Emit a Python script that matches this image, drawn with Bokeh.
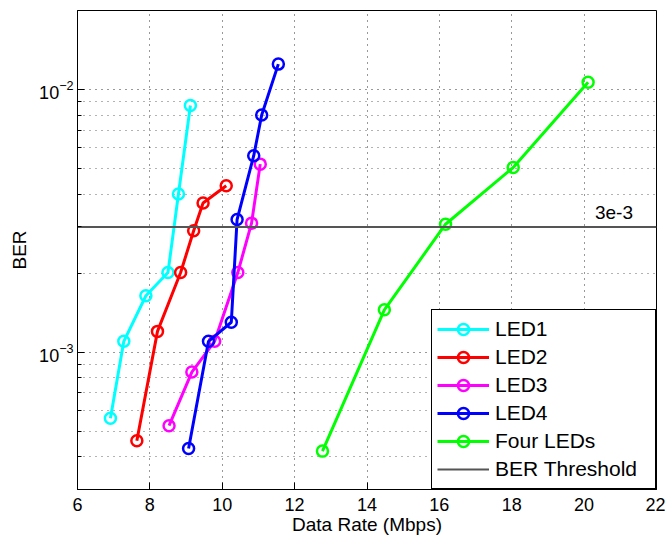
from bokeh.plotting import figure
from bokeh.models import FixedTicker, Label, Legend, LegendItem, LogTickFormatter
from bokeh.embed import file_html
from bokeh.resources import INLINE

# ---------------- data ----------------
led1_rate = [6.91, 7.28, 7.89, 8.50, 8.79, 9.12]
led1_ber = [5.6e-4, 1.10e-3, 1.64e-3, 2.01e-3, 4.0e-3, 8.7e-3]

led2_rate = [7.64, 8.21, 8.85, 9.21, 9.47, 10.11]
led2_ber = [4.6e-4, 1.2e-3, 2.01e-3, 2.9e-3, 3.7e-3, 4.3e-3]

led3_rate = [8.53, 9.16, 9.79, 10.43, 10.81, 11.05]
led3_ber = [5.25e-4, 8.4e-4, 1.10e-3, 2.01e-3, 3.1e-3, 5.2e-3]

led4_rate = [9.07, 9.62, 10.25, 10.41, 10.87, 11.09, 11.55]
led4_ber = [4.3e-4, 1.10e-3, 1.30e-3, 3.2e-3, 5.6e-3, 8.0e-3, 1.25e-2]

four_rate = [12.77, 14.48, 16.17, 18.04, 20.11]
four_ber = [4.2e-4, 1.45e-3, 3.07e-3, 5.05e-3, 1.066e-2]

threshold = 3e-3
threshold_label = "3e-3"
threshold_label_x = 20.3

x_title = "Data Rate (Mbps)"
y_title = "BER"
x_limits = (6, 22)
y_limits = (3e-4, 2e-2)
x_ticks = [6, 8, 10, 12, 14, 16, 18, 20, 22]
y_major = [1e-3, 1e-2]
y_minor_mult = [2, 3, 4, 5, 6, 7, 8, 9]

series = [
    ("LED1", led1_rate, led1_ber, "#00FFFF"),
    ("LED2", led2_rate, led2_ber, "#FF0000"),
    ("LED3", led3_rate, led3_ber, "#FF00FF"),
    ("LED4", led4_rate, led4_ber, "#0000FF"),
    ("Four LEDs", four_rate, four_ber, "#00FF00"),
]

FONT = "Liberation Sans"

p = figure(frame_width=579, frame_height=479, output_backend="svg",
           toolbar_location=None,
           x_range=x_limits, y_range=y_limits, y_axis_type="log",
           min_border_left=77, min_border_right=9, min_border_top=10,
           min_border_bottom=48)
p.background_fill_color = "white"
p.border_fill_color = "white"
p.outline_line_color = "black"
p.outline_line_width = 1
p.outline_line_alpha = 1

minor_vals = [m * d for d in [1e-4, 1e-3, 1e-2] for m in y_minor_mult]
yticker = FixedTicker(ticks=y_major, minor_ticks=minor_vals)
xticker = FixedTicker(ticks=x_ticks, minor_ticks=[])

xa = p.xaxis[0]
xa.ticker = xticker
ya = p.yaxis[0]
ya.ticker = yticker
for ax in (xa, ya):
    ax.major_label_text_font = FONT
    ax.major_label_text_font_size = "18px"
    ax.major_label_text_color = "black"
    ax.axis_label_text_font = FONT
    ax.axis_label_text_font_size = "19px"
    ax.axis_label_text_font_style = "normal"
    ax.axis_label_text_color = "black"
    ax.axis_line_color = "black"
    ax.axis_line_width = 1
    ax.major_tick_in = 7
    ax.major_tick_out = 0
    ax.minor_tick_in = 4
    ax.minor_tick_out = 0
    ax.major_tick_line_color = "black"
    ax.minor_tick_line_color = "black"
xa.axis_label = x_title
xa.major_label_standoff = 8
xa.axis_label_standoff = 0
xa.major_label_text_line_height = 1.0
xa.axis_label_text_line_height = 1.0
ya.axis_label = y_title
ya.major_label_standoff = 4
ya.axis_label_standoff = 6
ya.formatter = LogTickFormatter()

p.xgrid.ticker = xticker
p.ygrid.ticker = yticker
p.xgrid.grid_line_color = "black"
p.xgrid.grid_line_dash = "1 5"
p.xgrid.grid_line_alpha = 0.8
p.ygrid.grid_line_color = "black"
p.ygrid.grid_line_dash = "1 5"
p.ygrid.grid_line_alpha = 0.8
p.ygrid.minor_grid_line_color = "black"
p.ygrid.minor_grid_line_dash = "1 5"
p.ygrid.minor_grid_line_alpha = 0.6

items = []
for name, xs, ys, col in series:
    r1 = p.line(xs, ys, line_color=col, line_width=3)
    r2 = p.scatter(xs, ys, marker="circle", size=11, line_color=col,
                   line_width=2.5, fill_color=None)
    items.append(LegendItem(label=name, renderers=[r1, r2]))

thr = p.line(list(x_limits), [threshold, threshold], line_color="#555555",
             line_width=2)
items.append(LegendItem(label="BER Threshold", renderers=[thr]))

p.add_layout(Label(x=threshold_label_x, y=threshold, y_offset=14,
                   text=threshold_label, text_font=FONT,
                   text_font_size="19px", text_color="black",
                   text_baseline="alphabetic"))

legend = Legend(items=items, location="bottom_right")
legend.margin = 0
legend.padding = 5
legend.spacing = 0
legend.glyph_width = 52
legend.glyph_height = 28
legend.label_height = 28
legend.label_width = 155
legend.label_standoff = 6
legend.label_text_font = FONT
legend.label_text_font_size = "21px"
legend.label_text_color = "black"
legend.border_line_color = "black"
legend.border_line_width = 1
legend.border_line_alpha = 1
legend.background_fill_color = "white"
legend.background_fill_alpha = 1
p.add_layout(legend)

open("out.html", "w").write(file_html(p, INLINE))
